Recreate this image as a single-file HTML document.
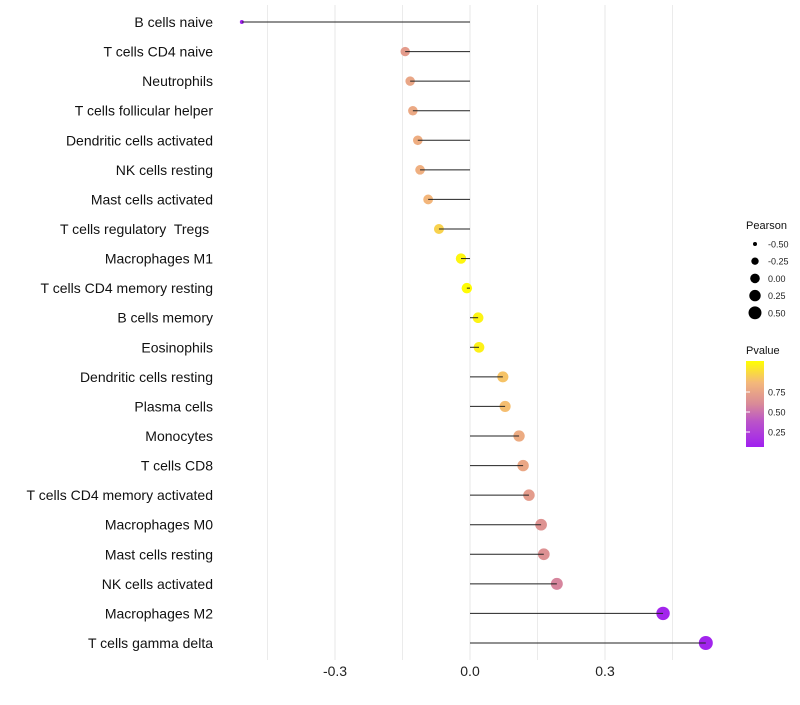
<!DOCTYPE html>
<html><head><meta charset="utf-8"><style>
body{margin:0;background:#fff;font-family:"Liberation Sans",sans-serif;}
text{white-space:pre;}
</style></head><body>
<svg id="chart" width="800" height="700" xmlns="http://www.w3.org/2000/svg">
<defs><linearGradient id="pg" x1="0" y1="1" x2="0" y2="0">
<stop offset="0" stop-color="#a020f0"/><stop offset="0.3" stop-color="#bb55c8"/><stop offset="0.5" stop-color="#d98a98"/><stop offset="0.75" stop-color="#f4b87a"/><stop offset="1" stop-color="#ffff00"/></linearGradient></defs>
<g id="grid"></g><g id="marks"></g><g id="labels"></g>
</svg>
<script>
const categories=["B cells naive","T cells CD4 naive","Neutrophils","T cells follicular helper","Dendritic cells activated","NK cells resting","Mast cells activated","T cells regulatory  Tregs ","Macrophages M1","T cells CD4 memory resting","B cells memory","Eosinophils","Dendritic cells resting","Plasma cells","Monocytes","T cells CD8","T cells CD4 memory activated","Macrophages M0","Mast cells resting","NK cells activated","Macrophages M2","T cells gamma delta"];
const pearson=[-0.507,-0.144,-0.133,-0.127,-0.116,-0.111,-0.093,-0.069,-0.02,-0.007,0.018,0.02,0.073,0.078,0.109,0.118,0.131,0.158,0.164,0.193,0.429,0.524];
const pvalue=[0.01,0.6,0.65,0.67,0.69,0.7,0.74,0.84,0.97,0.99,0.96,0.95,0.79,0.77,0.68,0.66,0.6,0.55,0.54,0.48,0.03,0.02];
const xTicks=[-0.3,0,0.3];
const xTickLabels=["-0.3","0.0","0.3"];
const sizeLegend=[-0.5,-0.25,0,0.25,0.5];
const pLegend=[0.75,0.5,0.25];
const NS="http://www.w3.org/2000/svg";
const x=v=>470+v*450;
const y=i=>22+i*(621/21);
const r=v=>2+5*Math.pow(Math.max(0,(v+0.507)/1.031),0.6);
const rl=v=>Math.sqrt(Math.max(1,23+38*v));
const stops=[[0,[160,32,240]],[0.3,[187,85,200]],[0.5,[217,138,152]],[0.75,[244,184,122]],[1,[255,255,0]]];
function col(p){for(let k=1;k<stops.length;k++){if(p<=stops[k][0]){const a=stops[k-1],b=stops[k],t=(p-a[0])/(b[0]-a[0]);return "rgb("+a[1].map((c,j)=>Math.round(c+(b[1][j]-c)*t)).join(",")+")";}}return "rgb(255,255,0)";}
function el(t,a,parent){const e=document.createElementNS(NS,t);for(const k in a)e.setAttribute(k,a[k]);document.getElementById(parent).appendChild(e);return e;}
[-0.45,-0.15,0.15,0.45].forEach(v=>{const g=el("line",{x1:x(v),x2:x(v),y1:5,y2:660,stroke:"#ebebeb","stroke-width":1},"grid");

});
xTicks.forEach((v,i)=>{const g=el("line",{x1:x(v),x2:x(v),y1:5,y2:660,stroke:"#ebebeb","stroke-width":1.2},"grid");


const t=el("text",{x:x(v),y:676,"text-anchor":"middle","font-size":14,fill:"#222"},"labels");t.textContent=xTickLabels[i];

});
categories.forEach((c,i)=>{const yy=y(i);
const t=el("text",{x:213,y:yy+5,"text-anchor":"end","font-size":14,fill:"#111"},"labels");t.textContent=c;


const d=el("circle",{cx:x(pearson[i]),cy:yy,r:r(pearson[i]),fill:col(pvalue[i])},"marks");


const s=el("line",{x1:x(0),x2:x(pearson[i]),y1:yy,y2:yy,stroke:"#222","stroke-width":1},"marks");

});
let t=el("text",{x:746,y:229,"font-size":11,fill:"#111"},"labels");t.textContent="Pearson";


sizeLegend.forEach((v,i)=>{const yy=244+i*17.2;
const c=el("circle",{cx:755,cy:yy,r:rl(v),fill:"#000"},"labels");


const l=el("text",{x:768,y:yy+3.5,"font-size":9,fill:"#222"},"labels");l.textContent=v.toFixed(2);

});
t=el("text",{x:746,y:354,"font-size":11,fill:"#111"},"labels");t.textContent="Pvalue";


const bar=el("rect",{x:746,y:361,width:18,height:86,fill:"url(#pg)"},"labels");


const py=p=>452-p*80;
pLegend.forEach(p=>{const tk=el("line",{x1:746,x2:750,y1:py(p),y2:py(p),stroke:"#fff"},"labels");


const l=el("text",{x:768,y:py(p)+3.5,"font-size":9,fill:"#222"},"labels");l.textContent=p.toFixed(2);

});
</script>
</body></html>
